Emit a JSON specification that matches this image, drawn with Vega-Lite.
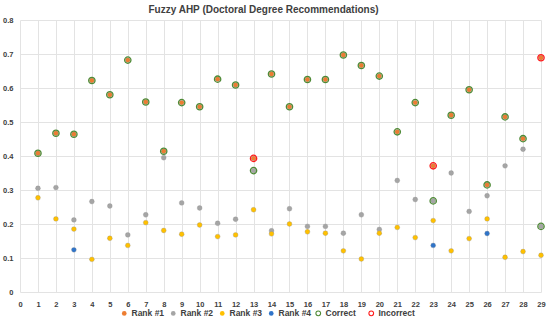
{
  "$schema": "https://vega.github.io/schema/vega-lite/v6.json",
  "autosize": {"type": "none"},
  "padding": {"left": 20, "top": 20, "right": 9, "bottom": 32},
  "width": 521,
  "height": 272,
  "background": "white",
  "title": {
    "text": "Fuzzy AHP (Doctoral Degree Recommendations)",
    "font": "Liberation Sans",
    "fontSize": 10,
    "fontWeight": "bold",
    "color": "#404040",
    "anchor": "middle",
    "dx": -17,
    "offset": 1
  },
  "datasets": {
    "ranks": [
      {"c": 1, "s": "Rank #1", "v": 0.408}, {"c": 2, "s": "Rank #1", "v": 0.467}, {"c": 3, "s": "Rank #1", "v": 0.464},
      {"c": 4, "s": "Rank #1", "v": 0.622}, {"c": 5, "s": "Rank #1", "v": 0.580}, {"c": 6, "s": "Rank #1", "v": 0.682},
      {"c": 7, "s": "Rank #1", "v": 0.559}, {"c": 8, "s": "Rank #1", "v": 0.414}, {"c": 9, "s": "Rank #1", "v": 0.557},
      {"c": 10, "s": "Rank #1", "v": 0.545}, {"c": 11, "s": "Rank #1", "v": 0.626}, {"c": 12, "s": "Rank #1", "v": 0.609},
      {"c": 13, "s": "Rank #1", "v": 0.393}, {"c": 14, "s": "Rank #1", "v": 0.641}, {"c": 15, "s": "Rank #1", "v": 0.545},
      {"c": 16, "s": "Rank #1", "v": 0.625}, {"c": 17, "s": "Rank #1", "v": 0.625}, {"c": 18, "s": "Rank #1", "v": 0.697},
      {"c": 19, "s": "Rank #1", "v": 0.666}, {"c": 20, "s": "Rank #1", "v": 0.635}, {"c": 21, "s": "Rank #1", "v": 0.471},
      {"c": 22, "s": "Rank #1", "v": 0.557}, {"c": 23, "s": "Rank #1", "v": 0.371}, {"c": 24, "s": "Rank #1", "v": 0.520},
      {"c": 25, "s": "Rank #1", "v": 0.595}, {"c": 26, "s": "Rank #1", "v": 0.315}, {"c": 27, "s": "Rank #1", "v": 0.515},
      {"c": 28, "s": "Rank #1", "v": 0.451}, {"c": 29, "s": "Rank #1", "v": 0.689},
      {"c": 1, "s": "Rank #2", "v": 0.305}, {"c": 2, "s": "Rank #2", "v": 0.307}, {"c": 3, "s": "Rank #2", "v": 0.212},
      {"c": 4, "s": "Rank #2", "v": 0.266}, {"c": 5, "s": "Rank #2", "v": 0.253}, {"c": 6, "s": "Rank #2", "v": 0.168},
      {"c": 7, "s": "Rank #2", "v": 0.227}, {"c": 8, "s": "Rank #2", "v": 0.395}, {"c": 9, "s": "Rank #2", "v": 0.262},
      {"c": 10, "s": "Rank #2", "v": 0.247}, {"c": 11, "s": "Rank #2", "v": 0.202}, {"c": 12, "s": "Rank #2", "v": 0.214},
      {"c": 13, "s": "Rank #2", "v": 0.357}, {"c": 14, "s": "Rank #2", "v": 0.180}, {"c": 15, "s": "Rank #2", "v": 0.245},
      {"c": 16, "s": "Rank #2", "v": 0.193}, {"c": 17, "s": "Rank #2", "v": 0.193}, {"c": 18, "s": "Rank #2", "v": 0.173},
      {"c": 19, "s": "Rank #2", "v": 0.227}, {"c": 20, "s": "Rank #2", "v": 0.184}, {"c": 21, "s": "Rank #2", "v": 0.328},
      {"c": 22, "s": "Rank #2", "v": 0.272}, {"c": 23, "s": "Rank #2", "v": 0.268}, {"c": 24, "s": "Rank #2", "v": 0.350},
      {"c": 25, "s": "Rank #2", "v": 0.237}, {"c": 26, "s": "Rank #2", "v": 0.283}, {"c": 27, "s": "Rank #2", "v": 0.371},
      {"c": 28, "s": "Rank #2", "v": 0.420}, {"c": 29, "s": "Rank #2", "v": 0.193},
      {"c": 1, "s": "Rank #3", "v": 0.277}, {"c": 2, "s": "Rank #3", "v": 0.215}, {"c": 3, "s": "Rank #3", "v": 0.185},
      {"c": 4, "s": "Rank #3", "v": 0.096}, {"c": 5, "s": "Rank #3", "v": 0.158}, {"c": 6, "s": "Rank #3", "v": 0.137},
      {"c": 7, "s": "Rank #3", "v": 0.204}, {"c": 8, "s": "Rank #3", "v": 0.181}, {"c": 9, "s": "Rank #3", "v": 0.170},
      {"c": 10, "s": "Rank #3", "v": 0.197}, {"c": 11, "s": "Rank #3", "v": 0.163}, {"c": 12, "s": "Rank #3", "v": 0.168},
      {"c": 13, "s": "Rank #3", "v": 0.242}, {"c": 14, "s": "Rank #3", "v": 0.171}, {"c": 15, "s": "Rank #3", "v": 0.200},
      {"c": 16, "s": "Rank #3", "v": 0.177}, {"c": 17, "s": "Rank #3", "v": 0.173}, {"c": 18, "s": "Rank #3", "v": 0.121},
      {"c": 19, "s": "Rank #3", "v": 0.097}, {"c": 20, "s": "Rank #3", "v": 0.173}, {"c": 21, "s": "Rank #3", "v": 0.190},
      {"c": 22, "s": "Rank #3", "v": 0.160}, {"c": 23, "s": "Rank #3", "v": 0.210}, {"c": 24, "s": "Rank #3", "v": 0.121},
      {"c": 25, "s": "Rank #3", "v": 0.157}, {"c": 26, "s": "Rank #3", "v": 0.215}, {"c": 27, "s": "Rank #3", "v": 0.102},
      {"c": 28, "s": "Rank #3", "v": 0.119}, {"c": 29, "s": "Rank #3", "v": 0.108},
      {"c": 3, "s": "Rank #4", "v": 0.124}, {"c": 23, "s": "Rank #4", "v": 0.137}, {"c": 26, "s": "Rank #4", "v": 0.172}
    ],
    "evals": [
      {"c": 1, "s": "Correct", "v": 0.408}, {"c": 2, "s": "Correct", "v": 0.467}, {"c": 3, "s": "Correct", "v": 0.464},
      {"c": 4, "s": "Correct", "v": 0.622}, {"c": 5, "s": "Correct", "v": 0.580}, {"c": 6, "s": "Correct", "v": 0.682},
      {"c": 7, "s": "Correct", "v": 0.559}, {"c": 8, "s": "Correct", "v": 0.414}, {"c": 9, "s": "Correct", "v": 0.557},
      {"c": 10, "s": "Correct", "v": 0.545}, {"c": 11, "s": "Correct", "v": 0.626}, {"c": 12, "s": "Correct", "v": 0.609},
      {"c": 13, "s": "Correct", "v": 0.357}, {"c": 14, "s": "Correct", "v": 0.641}, {"c": 15, "s": "Correct", "v": 0.545},
      {"c": 16, "s": "Correct", "v": 0.625}, {"c": 17, "s": "Correct", "v": 0.625}, {"c": 18, "s": "Correct", "v": 0.697},
      {"c": 19, "s": "Correct", "v": 0.666}, {"c": 20, "s": "Correct", "v": 0.635}, {"c": 21, "s": "Correct", "v": 0.471},
      {"c": 22, "s": "Correct", "v": 0.557}, {"c": 23, "s": "Correct", "v": 0.268}, {"c": 24, "s": "Correct", "v": 0.520},
      {"c": 25, "s": "Correct", "v": 0.595}, {"c": 26, "s": "Correct", "v": 0.315}, {"c": 27, "s": "Correct", "v": 0.515},
      {"c": 28, "s": "Correct", "v": 0.451}, {"c": 29, "s": "Correct", "v": 0.193},
      {"c": 13, "s": "Incorrect", "v": 0.393}, {"c": 23, "s": "Incorrect", "v": 0.371}, {"c": 29, "s": "Incorrect", "v": 0.689}
    ]
  },
  "config": {
    "view": {"stroke": null},
    "axis": {
      "labelFont": "Liberation Sans",
      "labelFontSize": 7.5,
      "labelFontWeight": "bold",
      "labelColor": "#404040",
      "domain": false,
      "ticks": false,
      "gridColor": "#e3e3e3",
      "gridWidth": 1,
      "title": null
    },
    "legend": {
      "title": null,
      "orient": "none",
      "direction": "horizontal",
      "symbolType": "circle",
      "labelFont": "Liberation Sans",
      "labelFontSize": 8.5,
      "labelFontWeight": "bold",
      "labelColor": "#404040",
      "labelOffset": 3
    }
  },
  "encoding": {
    "x": {
      "field": "c", "type": "quantitative",
      "scale": {"domain": [0, 29], "nice": false, "zero": false},
      "axis": {"values": [0,1,2,3,4,5,6,7,8,9,10,11,12,13,14,15,16,17,18,19,20,21,22,23,24,25,26,27,28,29], "labelPadding": 8, "labelFlush": false, "labelOverlap": false}
    },
    "y": {
      "field": "v", "type": "quantitative",
      "scale": {"domain": [0, 0.8], "nice": false},
      "axis": {"values": [0, 0.1, 0.2, 0.3, 0.4, 0.5, 0.6, 0.7, 0.8], "format": "~g", "labelPadding": 7, "labelFlush": false}
    }
  },
  "layer": [
    {
      "data": {"name": "ranks"},
      "mark": {"type": "point", "shape": "circle", "filled": true, "size": 24, "opacity": 1, "stroke": "#8c8c8c", "strokeOpacity": 0.3, "strokeWidth": 1},
      "encoding": {
        "fill": {
          "field": "s", "type": "nominal",
          "scale": {"domain": ["Rank #1", "Rank #2", "Rank #3", "Rank #4"], "range": ["#ED7D31", "#A5A5A5", "#FFC000", "#2F74C9"]},
          "legend": {"legendX": 100, "legendY": 289, "columnPadding": 4, "symbolSize": 22, "symbolStrokeWidth": 0, "symbolOpacity": 1}
        }
      }
    },
    {
      "data": {"name": "evals"},
      "mark": {"type": "point", "shape": "circle", "filled": false, "size": 40, "opacity": 1, "strokeWidth": 1.3},
      "encoding": {
        "stroke": {
          "field": "s", "type": "nominal",
          "scale": {"domain": ["Correct", "Incorrect"], "range": ["#4E8A36", "#FF1A1A"]},
          "legend": {"legendX": 294, "legendY": 289, "columnPadding": 10, "symbolSize": 22, "symbolStrokeWidth": 1.1, "symbolFillColor": "transparent", "symbolOpacity": 1}
        }
      }
    }
  ]
}
